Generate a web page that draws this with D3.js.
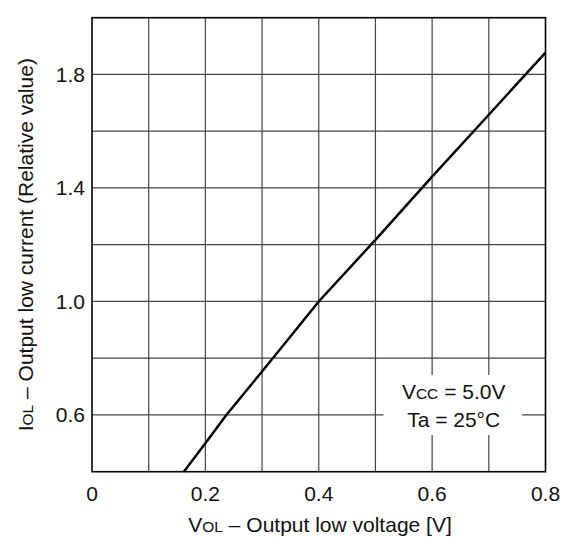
<!DOCTYPE html>
<html lang='en'>
<head>
<meta charset='utf-8'>
<script src='https://cdnjs.cloudflare.com/ajax/libs/d3/7.8.5/d3.min.js'></script>
<title>IOL vs VOL</title>
<style>
body {
   margin:0;
   background:white;
   overflow:hidden;
}
text {
   font-family:'Liberation Sans', Arial, sans-serif;
   fill:#111;
}
</style>
</head>
<body>
<script>
// curve: VOL [V] vs IOL (relative)
var volValues = [0.162, 0.2, 0.237, 0.3, 0.4, 0.5, 0.6, 0.7, 0.8];
var iolValues = [0.4, 0.5, 0.6, 0.753, 1.0, 1.217, 1.44, 1.658, 1.877];
var xTicks = [0, 0.2, 0.4, 0.6, 0.8];
var yTicks = [0.6, 1.0, 1.4, 1.8];
var xGrid = [0.1, 0.2, 0.3, 0.4, 0.5, 0.6, 0.7];
var yGrid = [0.6, 0.8, 1.0, 1.2, 1.4, 1.6, 1.8];
var noteLines = [['V', 'CC', ' = 5.0V'], ['Ta', '', ' = 25°C']];

var W = 579, H = 537;
var pLeft = 92, pRight = 545.5, pTop = 17.7, pBottom = 471.7;

var x = d3.scaleLinear().domain([0, 0.8]).range([pLeft, pRight]);
var y = d3.scaleLinear().domain([0.4, 2.0]).range([pBottom, pTop]);

var svg = d3.select('body').append('svg').attr('width', W).attr('height', H);

// grid
svg.append('g').selectAll('line').data(xGrid).enter().append('line')
   .attr('x1', function(d){return x(d);}).attr('x2', function(d){return x(d);})
   .attr('y1', pTop).attr('y2', pBottom)
   .style('stroke', '#444').style('stroke-width', 1.2);
svg.append('g').selectAll('line').data(yGrid).enter().append('line')
   .attr('x1', pLeft).attr('x2', pRight)
   .attr('y1', function(d){return y(d);}).attr('y2', function(d){return y(d);})
   .style('stroke', '#444').style('stroke-width', 1.2);

// white box behind the note
svg.append('rect')
   .attr('x', x(0.514)).attr('y', y(0.741))
   .attr('width', x(0.759) - x(0.514)).attr('height', y(0.529) - y(0.741))
   .style('fill', 'white');

// frame
svg.append('rect')
   .attr('x', pLeft).attr('y', pTop).attr('width', pRight - pLeft).attr('height', pBottom - pTop)
   .style('fill', 'none').style('stroke', '#000').style('stroke-width', 1.6);

// curve
var pts = volValues.map(function(v, i){return [v, iolValues[i]];});
svg.append('path')
   .datum(pts)
   .attr('d', d3.line().x(function(d){return x(d[0]);}).y(function(d){return y(d[1]);}))
   .style('fill', 'none').style('stroke', '#000').style('stroke-width', 2.5);

// tick labels
svg.append('g').selectAll('text').data(xTicks).enter().append('text')
   .attr('x', function(d){return x(d);}).attr('y', 501)
   .attr('text-anchor', 'middle').style('font-size', '21px')
   .text(function(d){return d === 0 ? '0' : d3.format('.1f')(d);});
svg.append('g').selectAll('text').data(yTicks).enter().append('text')
   .attr('x', 85).attr('y', function(d){return y(d) + 7.5;})
   .attr('text-anchor', 'end').style('font-size', '21px')
   .text(function(d){return d3.format('.1f')(d);});

// axis titles
var xt = svg.append('text').attr('x', 320).attr('y', 531.5)
   .attr('text-anchor', 'middle').style('font-size', '21px');
xt.append('tspan').text('V');
xt.append('tspan').style('font-size', '15.5px').text('OL');
xt.append('tspan').text(' – Output low voltage [V]');

var yt = svg.append('text')
   .attr('transform', 'translate(32.5,' + ((pTop + pBottom) / 2) + ') rotate(-90)')
   .attr('text-anchor', 'middle').style('font-size', '21px');
yt.append('tspan').text('I');
yt.append('tspan').style('font-size', '15.5px').text('OL');
yt.append('tspan').text(' – Output low current (Relative value)');

// condition note
svg.append('g').selectAll('text').data(noteLines).enter().append('text')
   .attr('x', x(0.638)).attr('y', function(d, i){return 399 + i * 27.7;})
   .attr('text-anchor', 'middle').style('font-size', '21px')
   .each(function(d){
      var t = d3.select(this);
      t.append('tspan').text(d[0]);
      if (d[1]) t.append('tspan').style('font-size', '15.5px').text(d[1]);
      t.append('tspan').text(d[2]);
   });
</script>
</body>
</html>
